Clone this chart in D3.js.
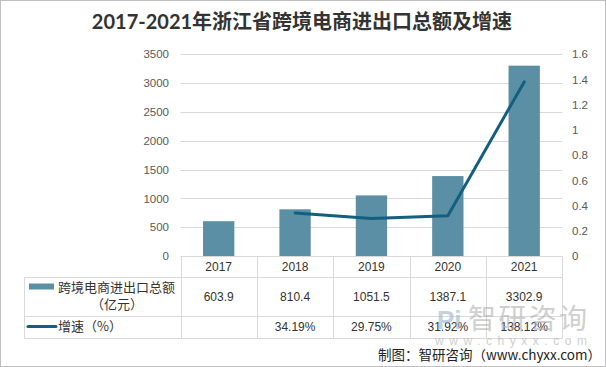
<!DOCTYPE html>
<html><head><meta charset="utf-8">
<script src="https://cdn.jsdelivr.net/npm/d3@7"></script>
<style>
html,body{margin:0;padding:0;background:#fff;}
svg{display:block;}
</style></head>
<body>
<svg id="c" width="606" height="367"></svg>
<script>
const years = ['2017','2018','2019','2020','2021'];
const amounts = [603.9, 810.4, 1051.5, 1387.1, 3302.9];
const amountLabels = ['603.9','810.4','1051.5','1387.1','3302.9'];
const growth = [null, 34.19, 29.75, 31.92, 138.12];
const growthLabels = ['', '34.19%', '29.75%', '31.92%', '138.12%'];
const leftTicks = [0,500,1000,1500,2000,2500,3000,3500];
const rightTicks = [0,0.2,0.4,0.6,0.8,1,1.2,1.4,1.6];
const title = '2017-2021年浙江省跨境电商进出口总额及增速';
const seriesNames = ['跨境电商进出口总额', '（亿元）', '增速（%）'];
const footer = '制图：智研咨询（www.chyxx.com）';

const W = 606, H = 367;
const svg = d3.select('#c');
const gridColor = '#d9d9d9';
const barColor = '#5b8fa6';
const lineColor = '#135f7f';
const cjk = '"Noto Sans CJK SC", sans-serif';
const num = '"Liberation Sans", Arial, sans-serif';

// border
svg.append('rect').attr('x',0.5).attr('y',0.5).attr('width',W-1).attr('height',H-1)
  .attr('fill','#fff').attr('stroke','#bfbfbf');

// title
svg.append('text').attr('x',302).attr('y',29).attr('text-anchor','middle')
  .attr('font-family','"Lato", "Noto Sans CJK SC", sans-serif').attr('font-weight','bold')
  .attr('font-size',20).attr('fill','#333').text(title);

const x = d3.scaleBand().domain(years).range([180.5, 562.4]).padding(0);
const yL = d3.scaleLinear().domain([0,3500]).range([256, 54.3]);
const yR = d3.scaleLinear().domain([0,1.6]).range([256, 54.3]);

// gridlines
svg.append('g').selectAll('line').data(leftTicks).join('line')
  .attr('x1',180.5).attr('x2',562.4)
  .attr('y1',d=>Math.round(yL(d))+0.5).attr('y2',d=>Math.round(yL(d))+0.5)
  .attr('stroke',gridColor).attr('stroke-width',1);

// left axis
const gL = svg.append('g').attr('transform','translate(169,0)')
  .call(d3.axisLeft(yL).tickValues(leftTicks).tickSize(0).tickPadding(0).tickFormat(d3.format('d')));
gL.select('.domain').remove();
gL.selectAll('text').attr('font-family',num).attr('font-size',11.5).attr('fill','#595959');

// right axis
const gR = svg.append('g').attr('transform','translate(572,0)')
  .call(d3.axisRight(yR).tickValues(rightTicks).tickSize(0).tickPadding(0).tickFormat(d=>String(+d.toFixed(1))));
gR.select('.domain').remove();
gR.selectAll('text').attr('font-family',num).attr('font-size',11.5).attr('fill','#595959');

// bars
const bw = x.bandwidth()*0.41;
svg.append('g').selectAll('rect').data(amounts).join('rect')
  .attr('x',(d,i)=>x(years[i])+x.bandwidth()/2-bw/2)
  .attr('y',d=>yL(d)).attr('width',bw).attr('height',d=>yL(0)-yL(d))
  .attr('fill',barColor);

// line
const pts = growth.map((g,i)=>g==null?null:[x(years[i])+x.bandwidth()/2, yR(g/100)]).filter(p=>p);
svg.append('path').attr('d', d3.line().curve(d3.curveLinear)(pts))
  .attr('fill','none').attr('stroke',lineColor).attr('stroke-width',3)
  .attr('stroke-linecap','round').attr('stroke-linejoin','round');

// table
const tb = svg.append('g').attr('stroke',gridColor).attr('stroke-width',1);
tb.append('line').attr('x1',180.5).attr('x2',562.4).attr('y1',256.5).attr('y2',256.5);
[277,316,338].forEach(y=>tb.append('line').attr('x1',24).attr('x2',562.4).attr('y1',y+0.5).attr('y2',y+0.5));
tb.append('line').attr('x1',24.5).attr('x2',24.5).attr('y1',277).attr('y2',338.5);
const colEdges = years.map(y=>x(y)).concat([x(years[4])+x.bandwidth()]);
tb.selectAll('line.v').data(colEdges).join('line').attr('class','v')
  .attr('x1',d=>Math.round(d)+0.5).attr('x2',d=>Math.round(d)+0.5).attr('y1',256).attr('y2',338.5);

// table texts
svg.append('g').selectAll('text').data(years).join('text')
  .attr('x',d=>x(d)+x.bandwidth()/2).attr('y',267).attr('dy','0.35em')
  .attr('text-anchor','middle').attr('font-family',num).attr('font-size',12).attr('fill','#333').text(d=>d);
svg.append('g').selectAll('text').data(amountLabels).join('text')
  .attr('x',(d,i)=>x(years[i])+x.bandwidth()/2).attr('y',296.5).attr('dy','0.35em')
  .attr('text-anchor','middle').attr('font-family',num).attr('font-size',12).attr('fill','#333').text(d=>d);
svg.append('g').selectAll('text').data(growthLabels).join('text')
  .attr('x',(d,i)=>x(years[i])+x.bandwidth()/2).attr('y',327).attr('dy','0.35em')
  .attr('text-anchor','middle').attr('font-family',num).attr('font-size',12).attr('fill','#333').text(d=>d);

// row legends
svg.append('rect').attr('x',29).attr('y',283.5).attr('width',25).attr('height',6).attr('fill',barColor);
svg.append('text').attr('x',58).attr('y',287).attr('dy','0.35em').attr('font-family',cjk)
  .attr('font-size',13).attr('fill','#333').text(seriesNames[0]);
svg.append('text').attr('x',117).attr('y',304).attr('dy','0.35em').attr('text-anchor','middle').attr('font-family',cjk)
  .attr('font-size',13).attr('fill','#333').text(seriesNames[1]);
svg.append('line').attr('x1',28).attr('x2',56).attr('y1',326.5).attr('y2',326.5)
  .attr('stroke',lineColor).attr('stroke-width',3).attr('stroke-linecap','round');
svg.append('text').attr('x',58).attr('y',326).attr('dy','0.35em').attr('font-family',cjk)
  .attr('font-size',13).attr('fill','#333').text(seriesNames[2]);

// watermark
const wm = svg.append('g').attr('opacity',0.6);
wm.append('text').attr('x',468).attr('y',319).attr('dy','0.35em').attr('font-family',cjk)
  .attr('font-size',28).attr('fill','#b0b0b0').attr('textLength',119).text('智研咨询');
wm.append('text').attr('x',437).attr('y',308).attr('dy','0.8em').attr('font-family',num)
  .attr('font-size',26).attr('font-weight','bold').attr('fill','#9fb3c8').text('Pi');
wm.append('text').attr('x',435).attr('y',341).attr('dy','0.35em').attr('font-family',num)
  .attr('font-size',12).attr('fill','#b0b0b0').attr('textLength',152).text('www.chyxx.com');

// footer
svg.append('text').attr('x',601).attr('y',355).attr('dy','0.35em').attr('text-anchor','end')
  .attr('font-family',cjk).attr('font-size',13.5).attr('fill','#222').text(footer);
</script>
</body></html>
